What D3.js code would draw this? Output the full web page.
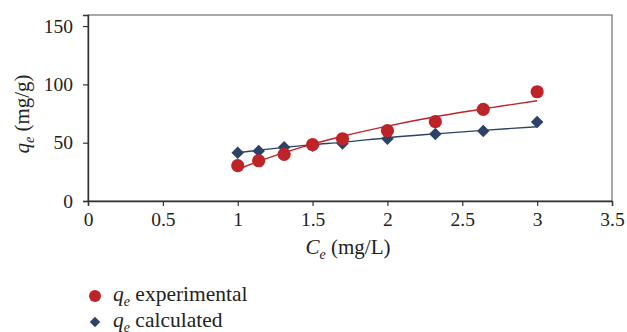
<!DOCTYPE html>
<html>
<head>
<meta charset="utf-8">
<script src="https://cdnjs.cloudflare.com/ajax/libs/d3/7.8.5/d3.min.js"></script>
<style>
  html, body { margin: 0; padding: 0; background: #fff; }
  svg { display: block; }
</style>
</head>
<body>
<div id="chart"></div>
<script>
// concentration at equilibrium, mg/L
var ceValues = [1.0, 1.14, 1.31, 1.5, 1.7, 2.0, 2.32, 2.64, 3.0];
// measured and model uptake, mg/g
var qeExperimental = [30.3, 34.5, 40, 48.3, 53.4, 60.3, 68, 78.6, 93.7];
var qeCalculated = [41.4, 42.9, 46, 47.4, 49.4, 53.4, 57.4, 60, 67.7];
// trend lines
var expTrend = [27, 34, 41.5, 48.8, 55.5, 64.2, 72.2, 79, 86];
var calcTrend = [41.4, 43.6, 46, 48.3, 50.3, 54.3, 57.6, 60.6, 63.7];
var xTicks = [0, 0.5, 1, 1.5, 2, 2.5, 3, 3.5];
var yTicks = [0, 50, 100, 150];

var RED = '#be2328', BLUE = '#2d4267';
var FONT = 'Liberation Serif';

var width = 627, height = 332;
var margin = {left: 88, top: 15, right: 15, bottom: 131};

var svg = d3.select('#chart').append('svg')
    .attr('width', width)
    .attr('height', height)
    .attr('font-family', FONT);

var x = d3.scaleLinear().domain([0, 3.5]).range([margin.left, width - margin.right]);
var y = d3.scaleLinear().domain([0, 159.5]).range([height - margin.bottom, margin.top]);

// frame
svg.append('rect')
    .attr('x', x(0)).attr('y', y(159.5))
    .attr('width', x(3.5) - x(0)).attr('height', y(0) - y(159.5))
    .attr('fill', 'none').attr('stroke', '#555').attr('stroke-width', 1);

var xAxis = svg.append('g')
    .attr('transform', `translate(0,${y(0)})`)
    .call(d3.axisBottom(x).tickValues(xTicks).tickSize(5).tickPadding(6).tickFormat(d3.format('')));

var yAxis = svg.append('g')
    .attr('transform', `translate(${x(0)},0)`)
    .call(d3.axisLeft(y).tickValues(yTicks).tickSize(5).tickPadding(10));

[xAxis, yAxis].forEach(g => {
    g.attr('font-family', FONT).attr('font-size', 19.5);
    g.select('.domain').attr('stroke', '#333').attr('stroke-width', 1.4);
    g.selectAll('.tick line').attr('stroke', '#333').attr('stroke-width', 1.2);
    g.selectAll('.tick text').attr('fill', '#222').attr('font-family', FONT);
});

// trend lines
var line = d3.line().curve(d3.curveMonotoneX);

svg.append('path')
    .attr('d', line(ceValues.map((c, i) => [x(c), y(calcTrend[i])])))
    .attr('fill', 'none').attr('stroke', BLUE).attr('stroke-width', 1.4);

svg.append('path')
    .attr('d', line(ceValues.map((c, i) => [x(c), y(expTrend[i])])))
    .attr('fill', 'none').attr('stroke', RED).attr('stroke-width', 1.4);

// markers
svg.selectAll('.calc')
    .data(ceValues)
    .enter()
    .append('path')
    .attr('class', 'calc')
    .attr('d', d3.symbol().type(d3.symbolDiamond2).size(100))
    .attr('transform', (c, i) => `translate(${x(c)},${y(qeCalculated[i])})`)
    .attr('fill', BLUE);

svg.selectAll('.exp')
    .data(ceValues)
    .enter()
    .append('circle')
    .attr('class', 'exp')
    .attr('cx', c => x(c))
    .attr('cy', (c, i) => y(qeExperimental[i]))
    .attr('r', 6.6)
    .attr('fill', RED);

// subscripted label helper: italic symbol, italic subscript, rest upright
function label(sel, sym, rest) {
    sel.attr('font-family', FONT).attr('fill', '#222');
    sel.append('tspan').attr('font-style', 'italic').text(sym);
    sel.append('tspan').attr('font-style', 'italic').attr('font-size', 14).attr('dy', 5).text('e');
    sel.append('tspan').attr('dy', -5).text(rest);
}

svg.append('text')
    .attr('x', 348).attr('y', 254)
    .attr('text-anchor', 'middle')
    .attr('font-size', 21)
    .call(label, 'C', ' (mg/L)');

svg.append('text')
    .attr('transform', 'translate(29,114) rotate(-90)')
    .attr('text-anchor', 'middle')
    .attr('font-size', 21)
    .call(label, 'q', ' (mg/g)');

// legend
var legend = [
    {label: ' experimental', color: RED, shape: 'circle', y: 296},
    {label: ' calculated', color: BLUE, shape: 'diamond', y: 322}
];

legend.forEach(item => {
    if (item.shape === 'circle') {
        svg.append('circle').attr('cx', 95).attr('cy', item.y).attr('r', 6).attr('fill', item.color);
    } else {
        svg.append('path')
            .attr('d', d3.symbol().type(d3.symbolDiamond2).size(70))
            .attr('transform', `translate(95,${item.y})`)
            .attr('fill', item.color);
    }
    svg.append('text')
        .attr('x', 113).attr('y', item.y + 4.5)
        .attr('font-size', 21.5)
        .call(label, 'q', item.label);
});
</script>
</body>
</html>
